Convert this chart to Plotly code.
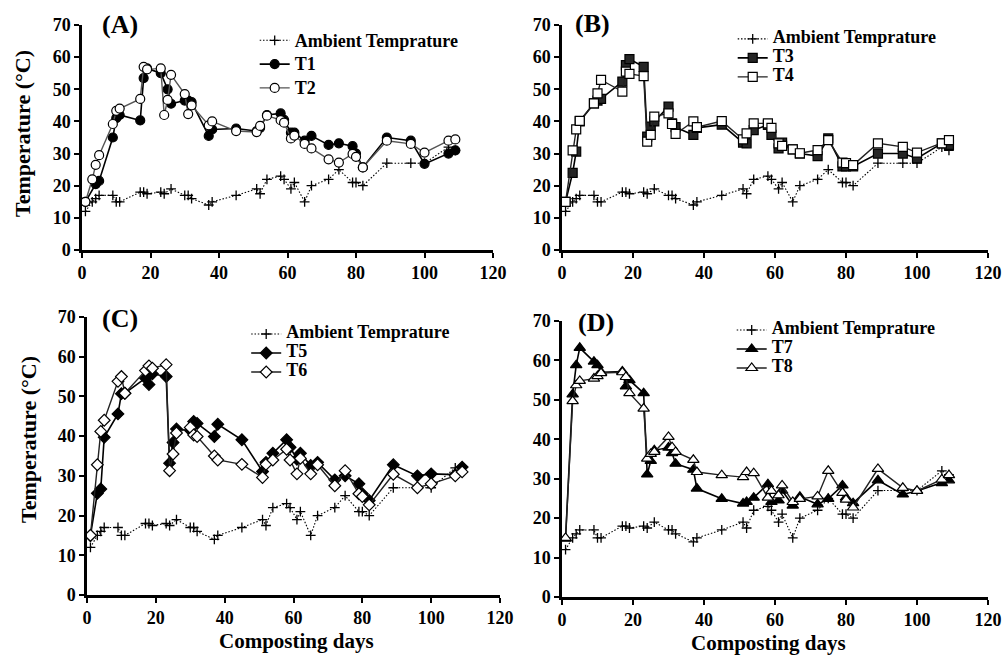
import plotly.graph_objects as go

days = [1, 3, 4, 5, 9, 10, 11, 17, 18, 19, 23, 24, 25, 26, 30, 31, 32, 37, 38, 45,
        51, 52, 54, 58, 59, 61, 62, 65, 67, 72, 75, 79, 80, 82, 89, 96, 100, 107, 109]

ambient = [12, 15, 16, 17, 17, 15, 15, 18, 18, 17.5, 18, 17.5, None, 19, 17, 17, 16, 14, 15, 17,
           19, 17.5, 22, 23, 22, 19, 21, 15, 20, 22, 25, 21, 21, 20, 27, 27, 27, 32, 31]

t1 = [15, None, 20.5, 21.5, 35, 41, 42, 40.3, 53.5, 56.5, 55, None, 50, 45.5, 46.5, 46.5, 46, 35.5, 37.5, 37.8,
      37, 38, 42, 42.5, 40.5, 36.5, 36.5, 34, 35.5, 32.7, 33.2, 32.3, 30, 25.7, 35, 34, 26.8, 30, 31]
t2 = [15, 22, 26.5, 29.5, 39.2, 43.3, 44, 47, 57, 56.2, 56.5, 42, 46.7, 54.5, 48.5, 42.3, 45, 38.8, 40, 37,
      36.7, 38.6, 41.8, 40.4, 39.6, 34.7, 35.6, 33, 31.6, 28.2, 27.2, 29.9, 29, 25.7, 34, 33, 30.3, 34, 34.4]

t3 = [15, 24, 30.6, 40, 45.6, 46.5, 47, 52.4, 57.5, 59.4, 57, 35.3, 38.4, 40, 44.6, 39.4, 38.2, 35.8, 38, 39,
      33.4, 33.2, 37.3, 38.9, 35.8, 31.6, 33.4, 31.3, 30, 29.2, 34.7, 26, 26, 26, 30, 30, 28.5, 33.2, 32.7]
t4 = [15, 31, 37.5, 40.2, 45.6, 48.7, 52.9, 49.3, 55.5, 54.8, 54.1, 33.7, 35.8, 41.5, 42.5, 39.2, 36.1, 40, 38.2, 40.1,
      34.4, 36.3, 39.4, 39.4, 38, 33.2, 32.4, 31.3, 30.1, 31.1, 34.2, 27.2, 27, 26.4, 33.2, 32.1, 30.3, 33.2, 34.2]

t5 = [15, 25.6, 26.7, 39.7, 45.6, 50.7, 50.8, 54.6, 53, 55.7, 55, 33.2, 38.4, 41.8, 41.5, 43.7, 43.2, 39.9, 43, 39.1,
      31.1, 33.4, 35.7, 39.1, 37.2, 34.2, 35.7, 32.6, 33.4, 29, 30, 28, 25.5, 23.8, 32.8, 30, 30.5, 30.3, 32.2]
t6 = [15, 32.8, 41.2, 44, 53.8, 55, 50.8, 56.5, 57.7, 57.1, 58, 31.3, 35.5, 40.8, 42.2, 40.3, 39.9, 35, 34, 32.9,
      29.6, 32.9, 34, 36.7, 34, 30.5, 34.4, 30.5, 32.8, 27.5, 31.3, 25.5, 24.8, 22.7, 30.4, 27, 28, 30, 31]

t7 = [14.8, 51.4, 58.8, 63.2, 59.7, 58.8, 57, 57.2, 53.4, 55, 51.7, 31.1, 34.5, 37.2, 37.9, 36.5, 33.8, 32.3, 27.5, 24.9,
      23.7, 24.1, 25.2, 28.6, 24.1, 24.5, 27, 23.2, 25.4, 23.5, 24.9, 28.3, 25.2, 23.8, 29.6, 26, 26.9, 28.9, 29.6]
t8 = [15, 49.7, 53.7, 54.8, 55.4, 56, 56.8, 57, 55.8, 51.7, 47.8, 35.1, 36.3, 36.8, 40.6, 38, 36.8, 34.8, 31.7, 30.9,
      30.4, 31.7, 31.4, 25.2, 26.9, 25.8, 28.3, 24.1, 24.9, 25.5, 32, 26.4, 24.7, 22.7, 32.5, 27.7, 26.9, 29.8, 30.9]

panel_labels = ["(A)", "(B)", "(C)", "(D)"]
ambient_name = "Ambient Temprature"
y_title = "Temperature (°C)"
x_title = "Composting days"

FONT = "Liberation Serif"
W, H = 1003, 655


def px(sx):
    return sx / W


def py(sy):
    return 1 - sy / H


panels = [
    ("T1", t1, "circle", "black", "T2", t2, "circle", "white"),
    ("T3", t3, "square", "#262626", "T4", t4, "square", "white"),
    ("T5", t5, "diamond", "black", "T6", t6, "diamond", "white"),
    ("T7", t7, "triangle-up", "black", "T8", t8, "triangle-up", "white"),
]
legend_ids = ["legend", "legend2", "legend3", "legend4"]
legend_fs = [16, 11, 11, 11]


def lname(s):
    return '<span style="font-size:18px"><b>%s</b></span>' % s


fig = go.Figure()
for i, (n1, v1, sym1, f1, n2, v2, sym2, f2) in enumerate(panels):
    xa = "x" if i == 0 else "x%d" % (i + 1)
    ya = "y" if i == 0 else "y%d" % (i + 1)
    lg = legend_ids[i]
    fig.add_trace(go.Scatter(
        x=days, y=ambient, xaxis=xa, yaxis=ya, legend=lg, name=lname(ambient_name),
        mode="lines+markers", connectgaps=True,
        line=dict(color="black", width=1.1, dash="1.5px,1.8px"),
        marker=dict(symbol="cross-thin", size=7, line=dict(color="black", width=1.3)),
    ))
    msize = 9 if sym1 != "triangle-up" else 10
    fig.add_trace(go.Scatter(
        x=days, y=v1, xaxis=xa, yaxis=ya, legend=lg, name=lname(n1),
        mode="lines+markers", connectgaps=True,
        line=dict(color="black", width=1.6),
        marker=dict(symbol=sym1, size=msize, color=f1, line=dict(color="black", width=1.2)),
    ))
    fig.add_trace(go.Scatter(
        x=days, y=v2, xaxis=xa, yaxis=ya, legend=lg, name=lname(n2),
        mode="lines+markers", connectgaps=True,
        line=dict(color="#222222" if i else "#555555", width=1.4),
        marker=dict(symbol=sym2, size=msize, color=f2, line=dict(color="black", width=1.2)),
    ))

# plot areas in window pixels: (left, right, top, bottom)
areas = [(82, 493, 25, 250), (562, 988, 25, 250), (87, 500, 317, 595), (562, 988, 321, 597)]

axis_common = dict(
    showline=True, linecolor="black", linewidth=2.5, ticks="outside", ticklen=5,
    tickwidth=2, tickcolor="black", showgrid=False, zeroline=False, automargin=False,
    tickfont=dict(family=FONT, size=18, color="black"), fixedrange=True,
)

layout = dict(
    width=W, height=H, margin=dict(l=0, r=0, t=0, b=0, autoexpand=False),
    paper_bgcolor="white", plot_bgcolor="white",
    font=dict(family=FONT, color="black"),
)
for i in range(4):
    xk = "xaxis" if i == 0 else "xaxis%d" % (i + 1)
    yk = "yaxis" if i == 0 else "yaxis%d" % (i + 1)
    xa = "x" if i == 0 else "x%d" % (i + 1)
    ya = "y" if i == 0 else "y%d" % (i + 1)
    l, r, t, b = areas[i]
    layout[xk] = dict(domain=[px(l), px(r)], range=[0, 120], tick0=0, dtick=20, anchor=ya,
                      tickprefix="<b>", ticksuffix="</b>", **axis_common)
    layout[yk] = dict(domain=[py(b), py(t)], range=[0, 70], tick0=0, dtick=10, anchor=xa,
                      tickprefix="<b>", ticksuffix="</b>", **axis_common)

legend_pos = [(254.7, 23.4), (732.7, 24.4), (246.2, 319.5), (731.7, 315.5)]
for i, lg in enumerate(legend_ids):
    layout[lg] = dict(x=px(legend_pos[i][0]), y=py(legend_pos[i][1]), xanchor="left", yanchor="top",
                      bgcolor="rgba(0,0,0,0)", borderwidth=0,
                      font=dict(family=FONT, size=legend_fs[i], color="black"))

fig.update_layout(**layout)

label_pos = [(120, 25), (592, 24), (120, 318), (596, 322)]
for i, lab in enumerate(panel_labels):
    fig.add_annotation(text="<b>%s</b>" % lab, xref="paper", yref="paper",
                       x=px(label_pos[i][0]), y=py(label_pos[i][1]),
                       xanchor="center", yanchor="middle", showarrow=False,
                       font=dict(family=FONT, size=26, color="black"))

for (sx, sy) in [(23, 134), (28, 440)]:
    fig.add_annotation(text="<b>%s</b>" % y_title, xref="paper", yref="paper",
                       x=px(sx), y=py(sy), textangle=-90,
                       xanchor="center", yanchor="middle", showarrow=False,
                       font=dict(family=FONT, size=22, color="black"))

for (sx, sy) in [(296, 641), (768, 643)]:
    fig.add_annotation(text="<b>%s</b>" % x_title, xref="paper", yref="paper",
                       x=px(sx), y=py(sy),
                       xanchor="center", yanchor="middle", showarrow=False,
                       font=dict(family=FONT, size=21, color="black"))

fig.write_html(
    "out.html",
    config={"displayModeBar": False},
    post_script="document.body.style.margin='0';document.body.style.overflow='hidden';",
)
